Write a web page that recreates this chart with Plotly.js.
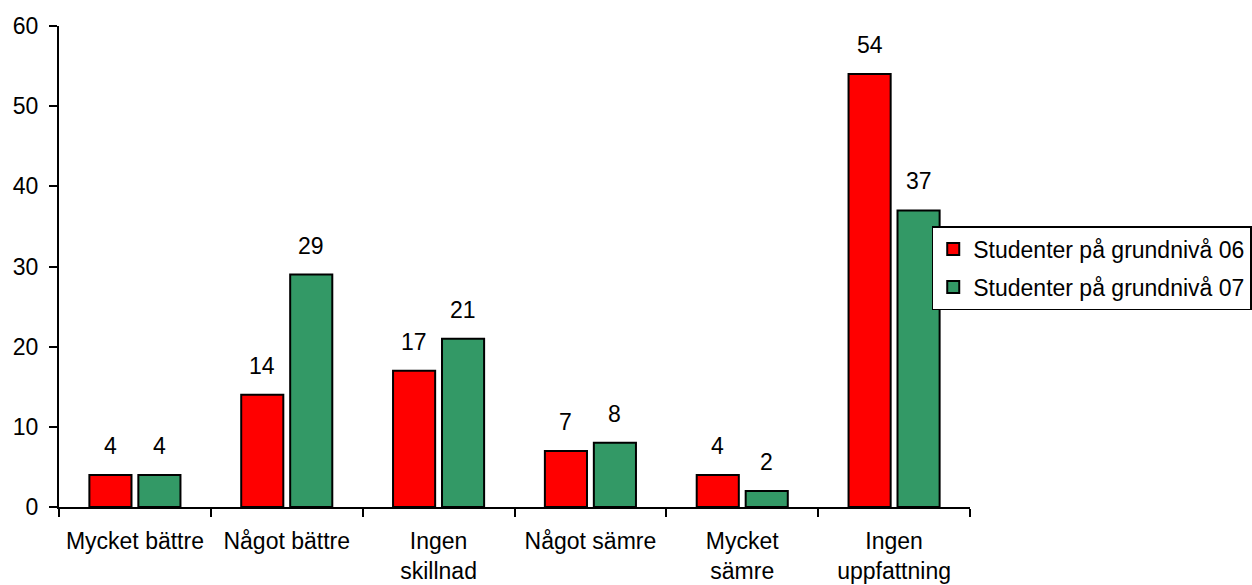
<!DOCTYPE html>
<html>
<head>
<meta charset="utf-8">
<script src="https://cdn.plot.ly/plotly-3.0.1.min.js"></script>
<style>html,body{margin:0;padding:0;background:#fff;}#chart{width:1252px;height:585px;}</style>
</head>
<body>
<div id="chart"></div>
<script>
const categories = ["Mycket bättre", "Något bättre", "Ingen<br>skillnad", "Något sämre", "Mycket<br>sämre", "Ingen<br>uppfattning"];
const series06 = [4, 14, 17, 7, 4, 54];
const series07 = [4, 29, 21, 8, 2, 37];
const seriesNames = ["Studenter på grundnivå 06", "Studenter på grundnivå 07"];
const seriesColors = ["#FF0000", "#339966"];
const yTicks = [0, 10, 20, 30, 40, 50, 60];

const FONT = "Liberation Sans, Arial, Helvetica, sans-serif";
const allSeries = [series06, series07];

const traces = allSeries.map((vals, i) => ({
  type: "bar",
  name: seriesNames[i],
  legendgroup: "g" + i,
  x: categories,
  y: vals,
  marker: {color: seriesColors[i], line: {color: "#000", width: 2}},
  hoverinfo: "skip"
}));

const annotations = [];
allSeries.forEach((vals, i) => {
  vals.forEach((v, j) => {
    annotations.push({
      x: categories[j], y: v, xref: "x", yref: "y",
      text: String(v), showarrow: false,
      xshift: i === 0 ? -24.5 : 24.5, yshift: 14,
      yanchor: "bottom", xanchor: "center",
      font: {family: FONT, size: 23, color: "#000"}
    });
  });
});

const layout = {
  width: 1252, height: 585,
  margin: {l: 59, r: 282, t: 26, b: 78, pad: 0, autoexpand: false},
  paper_bgcolor: "#fff", plot_bgcolor: "#fff",
  font: {family: FONT, size: 23, color: "#000"},
  barmode: "group", bargap: 0.355, bargroupgap: 0.14,
  showlegend: true,
  legend: {
    x: 0.958, y: 0.584, xanchor: "left", yanchor: "top",
    bgcolor: "#fff", bordercolor: "#000", borderwidth: 1.5,
    font: {family: FONT, size: 23, color: "#000"},
    tracegroupgap: 5, traceorder: "grouped"
  },
  xaxis: {
    type: "category", range: [-0.5, 5.5], fixedrange: true, automargin: false,
    showline: true, linecolor: "#000", linewidth: 2,
    ticks: "outside", tickson: "boundaries", ticklen: 8, tickwidth: 2, tickcolor: "#000",
    ticklabelstandoff: 12,
    showgrid: false, zeroline: false,
    tickfont: {family: FONT, size: 23, color: "#000"}
  },
  yaxis: {
    range: [0, 60], tickvals: yTicks, ticktext: yTicks.map(String), fixedrange: true, automargin: false,
    showline: true, linecolor: "#000", linewidth: 2,
    ticks: "outside", ticklen: 8, tickwidth: 2, tickcolor: "#000",
    ticklabelstandoff: 6,
    showgrid: false, zeroline: false,
    tickfont: {family: FONT, size: 23, color: "#000"}
  },
  annotations: annotations
};

Plotly.newPlot("chart", traces, layout, {displayModeBar: false, staticPlot: true});
</script>
</body>
</html>
